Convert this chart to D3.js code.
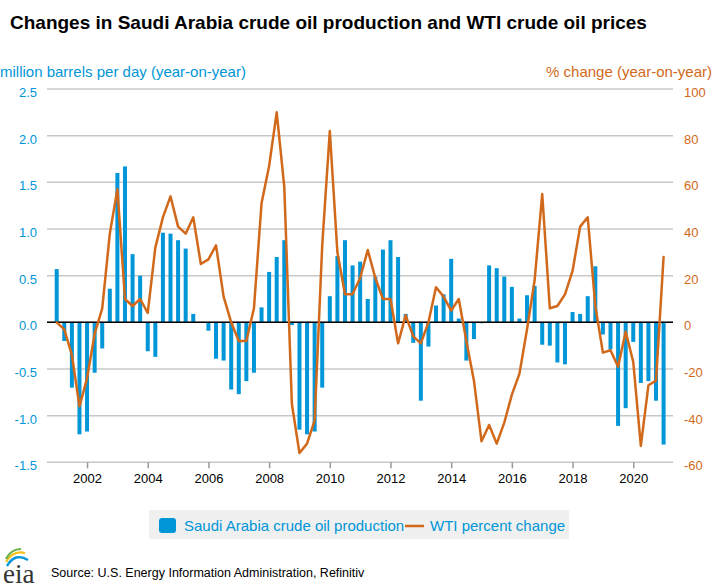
<!DOCTYPE html>
<html><head><meta charset="utf-8">
<script src="https://cdn.jsdelivr.net/npm/d3@7/dist/d3.min.js"></script>
<style>
body{margin:0;background:#fff}
svg{display:block;font-family:"Liberation Sans",Arial,Helvetica,sans-serif}
</style>
</head><body>
<svg id="chart" width="720" height="588"></svg>
<script>
// ---------------- data ----------------
const quarters = [
 "2001-Q1","2001-Q2","2001-Q3","2001-Q4",
 "2002-Q1","2002-Q2","2002-Q3","2002-Q4",
 "2003-Q1","2003-Q2","2003-Q3","2003-Q4",
 "2004-Q1","2004-Q2","2004-Q3","2004-Q4",
 "2005-Q1","2005-Q2","2005-Q3","2005-Q4",
 "2006-Q1","2006-Q2","2006-Q3","2006-Q4",
 "2007-Q1","2007-Q2","2007-Q3","2007-Q4",
 "2008-Q1","2008-Q2","2008-Q3","2008-Q4",
 "2009-Q1","2009-Q2","2009-Q3","2009-Q4",
 "2010-Q1","2010-Q2","2010-Q3","2010-Q4",
 "2011-Q1","2011-Q2","2011-Q3","2011-Q4",
 "2012-Q1","2012-Q2","2012-Q3","2012-Q4",
 "2013-Q1","2013-Q2","2013-Q3","2013-Q4",
 "2014-Q1","2014-Q2","2014-Q3","2014-Q4",
 "2015-Q1","2015-Q2","2015-Q3","2015-Q4",
 "2016-Q1","2016-Q2","2016-Q3","2016-Q4",
 "2017-Q1","2017-Q2","2017-Q3","2017-Q4",
 "2018-Q1","2018-Q2","2018-Q3","2018-Q4",
 "2019-Q1","2019-Q2","2019-Q3","2019-Q4",
 "2020-Q1","2020-Q2","2020-Q3","2020-Q4",
 "2021-Q1"
];
// Saudi Arabia crude oil production, million b/d, year-on-year change
const saudiProduction = [
  0.57,-0.20,-0.70,-1.20,
 -1.17,-0.54,-0.28, 0.36,
  1.60, 1.67, 0.73, 0.50,
 -0.31,-0.37, 0.96, 0.95,
  0.88, 0.79, 0.09, 0.00,
 -0.09,-0.39,-0.41,-0.72,
 -0.77,-0.63,-0.54, 0.16,
  0.54, 0.70, 0.88,-0.03,
 -1.15,-1.20,-1.17,-0.70,
  0.28, 0.71, 0.88, 0.61,
  0.65, 0.25, 0.49, 0.78,
  0.88, 0.70, 0.09,-0.22,
 -0.84,-0.26, 0.18, 0.30,
  0.68, 0.04,-0.41,-0.18,
 -0.01, 0.61, 0.58, 0.49,
  0.38, 0.04, 0.29, 0.39,
 -0.24,-0.25,-0.43,-0.45,
  0.11, 0.09, 0.28, 0.60,
 -0.13,-0.29,-1.11,-0.92,
 -0.21,-0.65,-0.63,-0.84,
 -1.31
];
// WTI crude oil price, % change year-on-year
const wtiChange = [
   0, -3,-14,-36,
 -24, -5,  6, 38,
  57, 10,  7, 10,
   4, 32, 45, 54,
  41, 38, 45, 25,
  27, 33, 11,  0,
  -8, -8,  6, 51,
  67, 90, 58,-35,
 -56,-52,-42, 33,
  82, 30, 12, 12,
  19, 31, 19, 10,
  10, -9,  3, -6,
  -9,  0, 15, 11,
   5, 10, -8,-25,
 -51,-44,-52,-43,
 -31,-22, -3, 18,
  55,  6,  7, 12,
  22, 41, 45,  7,
 -13,-12,-19, -4,
 -17,-53,-27,-25,
  28
];
const leftTicks = [-1.5,-1.0,-0.5,0,0.5,1.0,1.5,2.0,2.5];
const leftTickLabels = ["-1.5","-1.0","-0.5","0.0","0.5","1.0","1.5","2.0","2.5"];
const rightTicks = [-60,-40,-20,0,20,40,60,80,100];
const yearTicks = [2002,2004,2006,2008,2010,2012,2014,2016,2018,2020];

const titleText = "Changes in Saudi Arabia crude oil production and WTI crude oil prices";
const leftAxisTitle = "million barrels per day (year-on-year)";
const rightAxisTitle = "% change (year-on-year)";
const seriesNames = ["Saudi Arabia crude oil production","WTI percent change"];
const sourceText = "Source: U.S. Energy Information Administration, Refinitiv";

// ---------------- styles ----------------
const BLUE = "#0096d7";
const ORANGE = "#d2691a";
const GRID = "#c8c8c8";

const svg = d3.select("#chart");
const plot = {left:47, right:673, top:89, bottom:462.3};

const qToYear = q => { const [y, qq] = q.split("-Q"); return +y + (+qq - 1) / 4; };
const data = quarters.map((q, i) => ({q, t: qToYear(q), prod: saudiProduction[i], wti: wtiChange[i]}));

const x = d3.scaleLinear().domain([2000.68, 2021.31]).range([plot.left, plot.right]);
const yL = d3.scaleLinear().domain([-1.5, 2.5]).range([plot.bottom, plot.top]);
const yR = d3.scaleLinear().domain([-60, 100]).range([plot.bottom, plot.top]);

// grid lines
svg.append("g").selectAll("line").data(leftTicks).join("line")
  .attr("x1", plot.left).attr("x2", plot.right)
  .attr("y1", d => yL(d)).attr("y2", d => yL(d))
  .attr("stroke", GRID).attr("stroke-width", 1.5);

// left axis
const gL = svg.append("g").attr("transform", `translate(${plot.left},0)`)
  .call(d3.axisLeft(yL).tickValues(leftTicks).tickSize(0).tickPadding(10)
    .tickFormat((d, i) => leftTickLabels[i]));
gL.select(".domain").remove();
gL.selectAll("text").attr("fill", BLUE).attr("font-size", 13).attr("dy", "0.58em")
  .attr("font-family", '"Liberation Sans",Arial,sans-serif');

// right axis
const gR = svg.append("g").attr("transform", `translate(${plot.right},0)`)
  .call(d3.axisRight(yR).tickValues(rightTicks).tickSize(0).tickPadding(11)
    .tickFormat(d => String(d)));
gR.select(".domain").remove();
gR.selectAll("text").attr("fill", ORANGE).attr("font-size", 13).attr("dy", "0.58em")
  .attr("font-family", '"Liberation Sans",Arial,sans-serif');

// bottom axis
const gB = svg.append("g").attr("transform", `translate(0,${plot.bottom})`)
  .call(d3.axisBottom(x).tickValues(yearTicks).tickSize(6).tickPadding(5)
    .tickFormat(d3.format("d")));
gB.select(".domain").remove();
gB.selectAll("line").attr("stroke", "#999").attr("stroke-width", 1.5);
gB.selectAll("text").attr("fill", "#000").attr("font-size", 13)
  .attr("font-family", '"Liberation Sans",Arial,sans-serif');

// bars
const barW = 4;
svg.append("g").selectAll("rect").data(data).join("rect")
  .attr("x", d => x(d.t) - barW / 2)
  .attr("width", barW)
  .attr("y", d => Math.min(yL(0), yL(d.prod)))
  .attr("height", d => Math.abs(yL(d.prod) - yL(0)))
  .attr("fill", BLUE);

// zero line
svg.append("line").attr("x1", plot.left).attr("x2", plot.right)
  .attr("y1", yL(0)).attr("y2", yL(0)).attr("stroke", "#000").attr("stroke-width", 1.6);

// WTI line
svg.append("path").datum(data)
  .attr("fill", "none").attr("stroke", ORANGE).attr("stroke-width", 2.5)
  .attr("stroke-linejoin", "round").attr("stroke-linecap", "round")
  .attr("d", d3.line().x(d => x(d.t)).y(d => yR(d.wti)));

// titles
svg.append("text").attr("x", 10).attr("y", 29).text(titleText)
  .attr("font-size", 19).attr("font-weight", "bold").attr("fill", "#000");
svg.append("text").attr("x", 0).attr("y", 77).text(leftAxisTitle)
  .attr("font-size", 15).attr("fill", BLUE);
svg.append("text").attr("x", 712).attr("y", 77).attr("text-anchor", "end").text(rightAxisTitle)
  .attr("font-size", 15).attr("fill", ORANGE);

// legend
const lg = svg.append("g");
lg.append("rect").attr("x", 149).attr("y", 510).attr("width", 420).attr("height", 29).attr("fill", "#f0f0f0");
lg.append("rect").attr("x", 159).attr("y", 518).attr("width", 17).attr("height", 15).attr("rx", 3).attr("fill", BLUE);
lg.append("text").attr("x", 184).attr("y", 530.5).text(seriesNames[0]).attr("font-size", 15).attr("fill", BLUE);
lg.append("line").attr("x1", 405).attr("x2", 424).attr("y1", 526).attr("y2", 526).attr("stroke", ORANGE).attr("stroke-width", 2.5);
lg.append("text").attr("x", 430).attr("y", 530.5).text(seriesNames[1]).attr("font-size", 15).attr("fill", BLUE);

// source + logo
svg.append("text").attr("x", 51).attr("y", 577).text(sourceText).attr("font-size", 12.5).attr("fill", "#000");
const logo = svg.append("g");
logo.append("path").attr("d", "M7,566 Q15,552 28,560").attr("fill", "none").attr("stroke", BLUE).attr("stroke-width", 2.4);
logo.append("path").attr("d", "M6,562 Q13,550 25,553").attr("fill", "none").attr("stroke", "#f2c21b").attr("stroke-width", 2.2);
logo.append("path").attr("d", "M6,559 Q11,549 21,549").attr("fill", "none").attr("stroke", "#6ab04c").attr("stroke-width", 2.2);
logo.append("text").attr("x", 3).attr("y", 583).text("eia")
  .attr("font-family", '"Liberation Serif","DejaVu Serif",serif').attr("font-size", 27).attr("fill", "#333");
</script>
</body></html>
